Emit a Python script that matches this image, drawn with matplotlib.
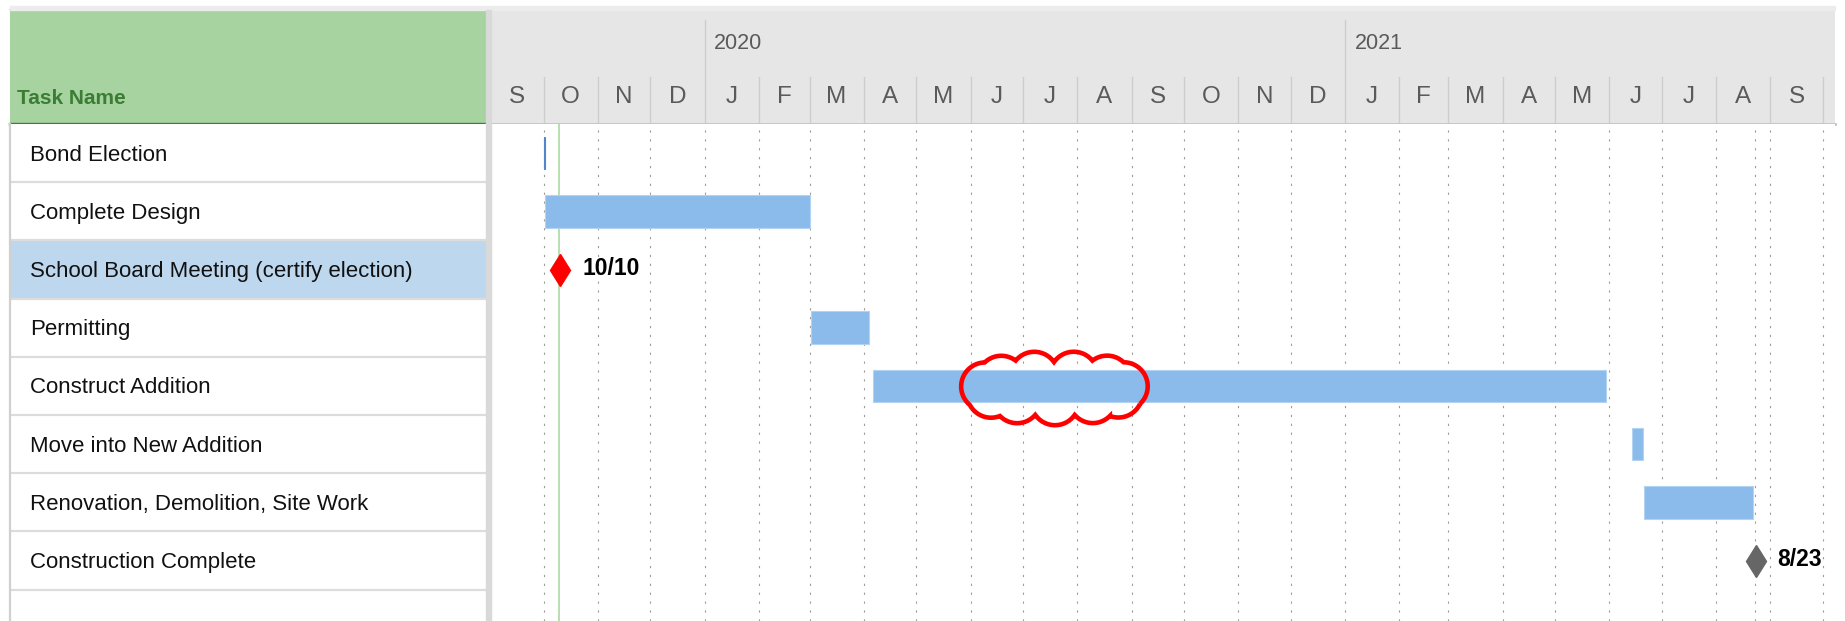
import numpy as np, matplotlib
matplotlib.use("Agg")
import matplotlib.pyplot as plt
import matplotlib.dates as mdates
import pandas as pd
from matplotlib import font_manager
from matplotlib.patches import Rectangle, PathPatch
from matplotlib.path import Path

tasks = ["Bond Election", "Complete Design", "School Board Meeting (certify election)",
         "Permitting", "Construct Addition", "Move into New Addition",
         "Renovation, Demolition, Site Work", "Construction Complete"]
bar_tasks = ["Bond Election", "Complete Design", "Permitting", "Construct Addition",
             "Move into New Addition", "Renovation, Demolition, Site Work"]
bar_start = ["2019-10-01", "2019-10-02", "2020-03-02", "2020-04-06", "2021-06-14", "2021-06-21"]
bar_finish = ["2019-10-01", "2020-02-29", "2020-04-03", "2021-05-29", "2021-06-19", "2021-08-21"]
milestone_tasks = ["School Board Meeting (certify election)", "Construction Complete"]
milestone_dates = ["2019-10-10 17:00", "2021-08-23 17:00"]
milestone_labels = ["10/10", "8/23"]
status_date = "2019-10-10"
highlight_task = "School Board Meeting (certify election)"
timeline_start, timeline_end = "2019-09-01", "2021-10-08"

# ---- styling ----
W, H = 1845, 621
BAR = "#8bbbea"
BAR_EDGE = "#b3d3f2"
GRID = "#9c9c9c"
HDR_GRAY = "#e6e6e6"
GREEN_HDR = "#a6d3a0"

names = {f.name for f in font_manager.fontManager.ttflist}
if "Liberation Sans Narrow" in names:
    FONT, K = "Liberation Sans Narrow", 1.22
else:
    FONT, K = "Liberation Sans", 1.0
plt.rcParams["font.family"] = [FONT, "DejaVu Sans"]


def box(x0, y0, x1, y1):
    return [x0 / W, 1 - y1 / H, (x1 - x0) / W, (y1 - y0) / H]


def clean(ax, color):
    ax.set_facecolor(color)
    ax.set_xticks([])
    ax.set_yticks([])
    for s in ax.spines.values():
        s.set_visible(False)


def cloud_path(ax, cx, cy, a=72, b=12, r=24, n=11):
    # scalloped outline built in pixels, then mapped back to data coords
    x0, y0 = ax.transData.transform((cx, cy))
    ctr = np.array([x0, y0])
    t = np.linspace(0, 2 * np.pi, n, endpoint=False) + 0.15
    cen = np.column_stack([x0 + a * np.cos(t), y0 + b * np.sin(t)])
    verts = []
    for i in range(n):
        c = cen[i]
        outer = []
        for j in (i - 1, (i + 1) % n):
            o = cen[j]
            d = np.linalg.norm(o - c)
            mid = (c + o) / 2
            h = np.sqrt(max(r * r - (d / 2) ** 2, 0))
            perp = np.array([-(o - c)[1], (o - c)[0]]) / d
            p1, p2 = mid + h * perp, mid - h * perp
            outer.append(p1 if np.linalg.norm(p1 - ctr) > np.linalg.norm(p2 - ctr) else p2)
        a0 = np.arctan2(outer[0][1] - c[1], outer[0][0] - c[0])
        a1 = np.arctan2(outer[1][1] - c[1], outer[1][0] - c[0])
        while a1 <= a0:
            a1 += 2 * np.pi
        ang = np.linspace(a0, a1, 30)
        verts.extend(np.column_stack([c[0] + r * np.cos(ang), c[1] + r * np.sin(ang)]))
    verts = np.array(verts)
    verts = np.vstack([verts, verts[:1]])
    return Path(ax.transData.inverted().transform(verts))


fig = plt.figure(figsize=(W / 100, H / 100), dpi=100, facecolor="white")

# frame bits: top band and the splitter between table and chart
fig.patches.append(Rectangle((10 / W, 1 - 10 / H), (1835 - 10) / W, 4 / H,
                             transform=fig.transFigure, color="#ececec", zorder=0))
fig.patches.append(Rectangle((486 / W, 0), 5 / W, (H - 10) / H,
                             transform=fig.transFigure, color="#d9d9d9", zorder=0))

ax_th = fig.add_axes(box(10, 10, 486, 124))
ax_tb = fig.add_axes(box(10, 124, 486, H))
ax_gh = fig.add_axes(box(491, 10, 1835, 124))
ax_gb = fig.add_axes(box(491, 124, 1835, H))
clean(ax_th, GREEN_HDR)
clean(ax_tb, "white")
clean(ax_gh, HDR_GRAY)
clean(ax_gb, "white")

rows = np.arange(len(tasks))
row_of = {t: i for i, t in enumerate(tasks)}
ylim = (-0.5 + (H - 124) / 58.2, -0.5)

# ---- task table ----
ax_th.set_xlim(0, 1)
ax_th.set_ylim(0, 1)
ax_th.text(0.015, 0.22, "Task Name", fontsize=15 * K, fontweight="bold",
           color="#3b7d34", va="center", ha="left")
ax_th.axhline(0, color="#3c7d3c", lw=2.4, clip_on=False)
ax_th.axhline(1, color="#cfcfcf", lw=1.2, clip_on=False)

ax_tb.set_xlim(0, 1)
ax_tb.set_ylim(*ylim)
hi = row_of[highlight_task]
ax_tb.axhspan(hi - 0.5, hi + 0.5, color="#bdd7ee", lw=0)
for i in rows:
    ax_tb.axhline(i + 0.5, color="#dcdcdc", lw=1.6)
    ax_tb.text(20 / 476, i + 0.035, tasks[i], fontsize=16 * K, color="#111111",
               va="center", ha="left")
ax_tb.axvline(0, color="#d0d0d0", lw=1.6, clip_on=False)

# ---- timescale header ----
t0, t1 = mdates.date2num(pd.to_datetime([timeline_start, timeline_end]))
months = pd.date_range("2019-09-01", "2021-09-01", freq="MS")
month_end = months + pd.offsets.MonthBegin(1)
centers = mdates.date2num(months + (month_end - months) / 2)
bounds = mdates.date2num(month_end)

ax_gh.set_xlim(t0, t1)
ax_gh.set_ylim(0, 1)
for c, m in zip(centers, months):
    ax_gh.text(c, 0.24, m.strftime("%b")[0], fontsize=17.5 * K, color="#5a5a5a",
               ha="center", va="center")
for b, m in zip(bounds, month_end):
    top = 0.91 if m.month == 1 else 0.41
    ax_gh.plot([b, b], [0, top], color="#cdcdcd", lw=1.0)
    if m.month == 1:
        ax_gh.text(b + 5.5, 0.71, str(m.year), fontsize=15.5 * K, color="#5a5a5a",
                   ha="left", va="center")
ax_gh.axhline(0, color="#c4c4c4", lw=2.0, clip_on=False)
ax_gh.axhline(1, color="#cfcfcf", lw=1.2, clip_on=False)

# ---- gantt body ----
ax_gb.set_xlim(t0, t1)
ax_gb.set_ylim(*ylim)
for b in bounds:
    ax_gb.axvline(b, color=GRID, lw=0.8, ls=(0, (2, 6)), zorder=1)
ax_gb.axvline(mdates.date2num(pd.to_datetime(milestone_dates[-1])) - 0.3,
              color=GRID, lw=0.8, ls=(0, (2, 6)), zorder=1)
ax_gb.axvline(mdates.date2num(pd.to_datetime(status_date)), color="#a5d69c",
              lw=1.1, zorder=2)

s = mdates.date2num(pd.to_datetime(bar_start))
f = mdates.date2num(pd.to_datetime(bar_finish)) + 1
ys = [row_of[t] for t in bar_tasks]
colors = ["#4f86cc" if t == "Bond Election" else BAR for t in bar_tasks]
edges = ["#4f86cc" if t == "Bond Election" else BAR_EDGE for t in bar_tasks]
ax_gb.barh(ys, f - s, left=s, height=0.56, color=colors, edgecolor=edges,
           linewidth=0.8, zorder=3)

md = mdates.date2num(pd.to_datetime(milestone_dates))
for t, d, lab, col in zip(milestone_tasks, md, milestone_labels, ["#ff0000", "#666666"]):
    y = row_of[t]
    ax_gb.plot(d, y, marker="d", ms=16.8, color=col, mec=col, zorder=4)
    ax_gb.annotate(lab, (d, y), xytext=(15.5, 1), textcoords="offset points",
                   fontsize=16.5 * K, fontweight="bold", color="black",
                   ha="left", va="center", zorder=5)

# revision cloud on the construction bar
cx = mdates.date2num(pd.to_datetime("2020-07-19"))
cloud = cloud_path(ax_gb, cx, row_of["Construct Addition"] + 0.04, a=70, b=13, r=24)
ax_gb.add_patch(PathPatch(cloud, facecolor="none", edgecolor="#ff0000", lw=3.3,
                          zorder=6, clip_on=False))

fig.savefig("out.png", dpi=100, facecolor="white")
